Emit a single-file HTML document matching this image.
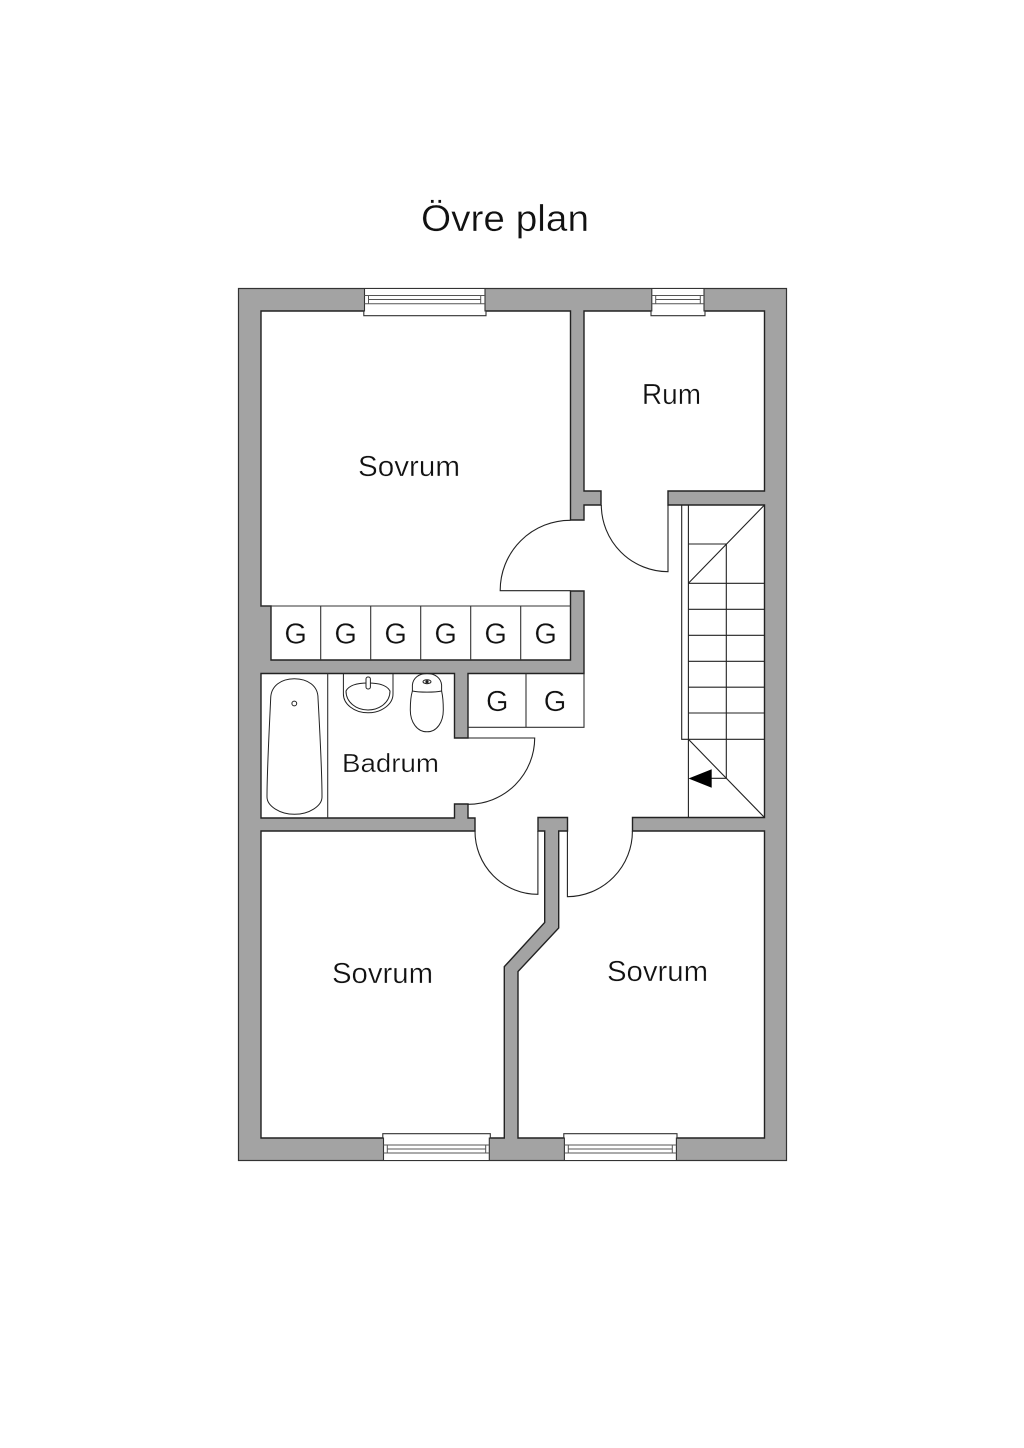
<!DOCTYPE html>
<html>
<head>
<meta charset="utf-8">
<style>
html,body{margin:0;padding:0;background:#fff;width:1024px;height:1448px;overflow:hidden}
svg{display:block}
text{font-family:"Liberation Sans",sans-serif;fill:#111;stroke:#fff;stroke-width:.35;paint-order:normal}
</style>
</head>
<body>
<svg width="1024" height="1448" viewBox="0 0 1024 1448" xmlns="http://www.w3.org/2000/svg">
<rect width="1024" height="1448" fill="#fff"/>
<text x="421" y="231" font-size="37" textLength="168" lengthAdjust="spacingAndGlyphs">Övre plan</text>

<rect x="238.5" y="288.5" width="548" height="872" fill="#a3a3a3" stroke="#333" stroke-width="1.2"/>
<path fill="#fff" stroke="#222" stroke-width="1.4" stroke-linejoin="miter" d="M261,311 L570.5,311 L570.5,520 L584,520 L584,505 L601,505 L601,491 L584,491 L584,311 L764.5,311 L764.5,491 L668,491 L668,505 L764.5,505 L764.5,817.5 L632.5,817.5 L632.5,831 L764.5,831 L764.5,1138 L518,1138 L518,971.5 L558.7,928 L558.7,831 L567.5,831 L567.5,817.5 L538,817.5 L538,831 L544.7,831 L544.7,922.5 L504.3,966.7 L504.3,1138 L261,1138 L261,831 L475,831 L475,818 L468,818 L468,804 L454.5,804 L454.5,818 L261,818 L261,673.5 L454.5,673.5 L454.5,738 L468,738 L468,673.5 L584,673.5 L584,591 L570.5,591 L570.5,660 L271,660 L271,606 L261,606 Z"/>

<!-- closets -->
<g fill="none" stroke="#333" stroke-width="1.1">
<path d="M261,606H570.5M320.7,606V660M370.7,606V660M420.7,606V660M470.7,606V660M520.7,606V660"/>
<path d="M468,727.3H584V673.5M526,673.5V727.3M327.7,673.5V818"/>
</g>

<!-- doors -->
<g fill="none" stroke="#222" stroke-width="1.1">
<path d="M570.5,520.3 A70,70 0 0 0 500.2,590.7 H570.5"/>
<path d="M601.3,505 A67,67 0 0 0 668,571.7 V505"/>
<path d="M468,738 H534.7 A66.5,66.5 0 0 1 468,804.3"/>
<path d="M475,831 A63,63 0 0 0 537.9,894.3 V831"/>
<path d="M632.4,831 A65.5,65.5 0 0 1 567.4,896.7 V831"/>
</g>

<!-- stairs -->
<g fill="none" stroke="#222" stroke-width="1.1">
<path d="M681.7,505V739.3H688.4M688.4,505V817.5"/>
<path d="M764.5,505L688.4,583.3M688.4,739.3L764.5,817.5"/>
<path d="M688.4,544H726.3V778M688.4,583.3H764.5M688.4,609.3H764.5M688.4,635.3H764.5M688.4,661.3H764.5M688.4,687.2H764.5M688.4,713H764.5M688.4,739.3H764.5M710,778.3H726.3"/>
</g>
<path d="M688.5,778.5L711.7,769.3V787.7Z" fill="#000"/>

<!-- bath -->
<g fill="none" stroke="#222" stroke-width="1">
<path d="M270.7,698 C271,686 281,678.7 294.3,678.7 C308,678.7 318,686 318,698 C319.5,725 322,770 322,797 C322,806 309,814.3 294.5,814.3 C280,814.3 267,806 267,797 C267,770 269.5,725 270.7,698 Z"/>
<circle cx="294.3" cy="703.5" r="2.4"/>
<!-- sink -->
<path d="M343.4,673.5 V694 C343.4,704 354,712.8 368,712.8 C382,712.8 393,704 393,694 V673.5"/>
<path d="M346,691 C349,685 358,683 368,683 C378,683 387,685 390,691 C390,702 380,710 368,710 C356,710 346,702 346,691 Z"/>
<rect x="366" y="677" width="4.4" height="12" rx="2" fill="#fff"/>
<!-- toilet -->
<path d="M412.4,691 V685 C413,678 419,673.5 427,673.5 C435,673.5 441,678 441.6,685 V691 C435,692.5 419,692.5 412.4,691 Z"/>
<path d="M412.4,691 C410.5,697 410.3,704 410.3,710 C410.3,722 417,731.8 427,731.8 C437,731.8 443.3,722 443.3,710 C443.3,704 443,697 441.6,691"/>
<ellipse cx="427" cy="681.7" rx="4" ry="2"/>
<circle cx="427" cy="681.7" r="1.1" fill="#222"/>
</g>

<!-- windows -->
<g stroke="#333" stroke-width="1.1" fill="#fff">
<path d="M364.5,288.5H485V311H486V315.7H363.8V311H364.5Z"/>
<path d="M651.8,288.5H704V311H705V315.7H651V311H651.8Z"/>
<path d="M382.8,1133.7H490.3V1138H489.3V1160.5H383.5V1138H382.8Z"/>
<path d="M563.8,1133.7H677V1138H676.4V1160.5H564.4V1138H563.8Z"/>
</g>
<g fill="none" stroke="#555" stroke-width="1">
<path d="M364.5,295.5H485M368.5,299.5H480.7M364.5,303.7H485M368.5,295.5V303.7M480.7,295.5V303.7"/>
<path d="M651.8,295.5H704M655.7,299.5H700.3M651.8,303.7H704M655.7,295.5V303.7M700.3,295.5V303.7"/>
<path d="M383.5,1145H489.3M387.3,1149H485.7M383.5,1153H489.3M387.3,1145V1153M485.7,1145V1153"/>
<path d="M564.4,1145H676.4M568.3,1149H672.3M564.4,1153H676.4M568.3,1145V1153M672.3,1145V1153"/>
</g>

<!-- labels -->
<text x="358" y="476" font-size="29" textLength="102" lengthAdjust="spacingAndGlyphs">Sovrum</text>
<text x="642" y="404" font-size="29" textLength="59" lengthAdjust="spacingAndGlyphs">Rum</text>
<text x="342" y="772" font-size="26" textLength="97" lengthAdjust="spacingAndGlyphs">Badrum</text>
<text x="332" y="983" font-size="29" textLength="101" lengthAdjust="spacingAndGlyphs">Sovrum</text>
<text x="607" y="981" font-size="29" textLength="101" lengthAdjust="spacingAndGlyphs">Sovrum</text>
<g font-size="29" text-anchor="middle">
<text x="295.7" y="643.5">G</text>
<text x="345.7" y="643.5">G</text>
<text x="395.7" y="643.5">G</text>
<text x="445.7" y="643.5">G</text>
<text x="495.7" y="643.5">G</text>
<text x="545.7" y="643.5">G</text>
<text x="497.3" y="711">G</text>
<text x="555" y="711">G</text>
</g>
</svg>
</body>
</html>
